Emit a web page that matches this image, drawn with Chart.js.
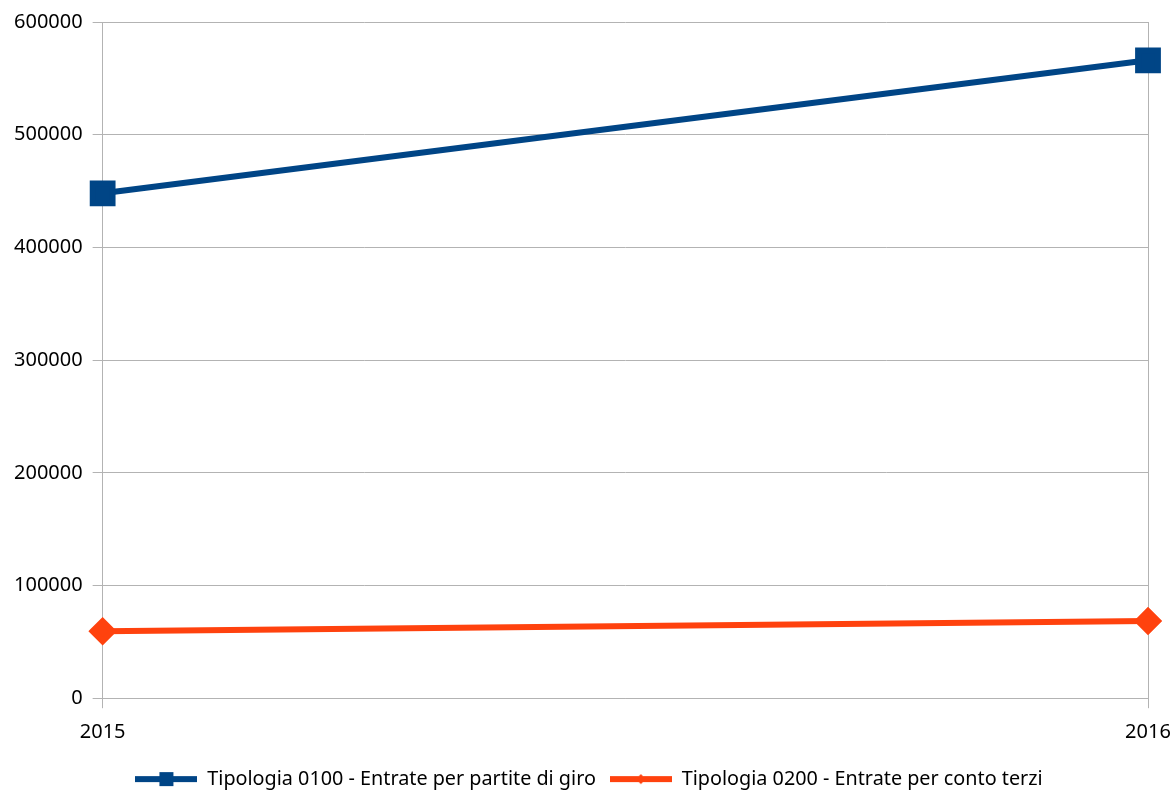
<!DOCTYPE html>
<html>
<head>
<meta charset="utf-8">
<script src="https://cdn.jsdelivr.net/npm/chart.js@4.4.0/dist/chart.umd.min.js"></script>
<style>
  html, body { margin: 0; padding: 0; background: #fff; }
  #chart { display: block; }
</style>
</head>
<body>
<canvas id="chart" width="1174" height="791"></canvas>
<script>
const years = ['2015', '2016'];
const partiteGiro = [448000, 566000];
const contoTerzi = [59500, 68400];
const seriesNames = ['Tipologia 0100 - Entrate per partite di giro', 'Tipologia 0200 - Entrate per conto terzi'];
const blue = '#004586';
const orange = '#ff420e';

// petite image pour la légende : trait + marqueur
function legendIcon(color, shape) {
    const c = document.createElement('canvas');
    c.width = 62; c.height = 16;
    const g = c.getContext('2d');
    g.fillStyle = color;
    g.fillRect(0, 5, 62, 6);
    if (shape === 'rect') {
        g.fillRect(24, 1, 14, 14);
    } else {
        g.beginPath();
        g.moveTo(31, 3); g.lineTo(36, 8); g.lineTo(31, 13); g.lineTo(26, 8);
        g.closePath(); g.fill();
    }
    return c;
}

const tickFont = { family: 'Noto Sans', size: 20 };

const ctx = document.getElementById('chart').getContext('2d');
new Chart(ctx, {
    type: 'line',
    data: {
        labels: years,
        datasets: [{
            label: seriesNames[0],
            data: partiteGiro,
            borderColor: blue,
            backgroundColor: blue,
            borderWidth: 6,
            pointStyle: 'rect',
            pointRadius: 14,
            tension: 0
        }, {
            label: seriesNames[1],
            data: contoTerzi,
            borderColor: orange,
            backgroundColor: orange,
            borderWidth: 6,
            pointStyle: 'rectRot',
            pointRadius: 10,
            tension: 0
        }]
    },
    options: {
        responsive: false,
        animation: false,
        layout: { padding: { top: 7, right: 0, left: 4, bottom: -8 } },
        scales: {
            x: {
                offset: false,
                grid: { color: '#b3b3b3', tickLength: 10 },
                border: { color: '#b3b3b3' },
                ticks: { color: '#000', font: tickFont, padding: 12 },
                afterFit: scale => {
                    scale.height -= 1;
                    scale.paddingRight = 26;
                }
            },
            y: {
                min: 0,
                max: 600000,
                grid: { color: '#b3b3b3', tickLength: 10 },
                border: { color: '#b3b3b3' },
                ticks: {
                    stepSize: 100000,
                    color: '#000',
                    font: tickFont,
                    padding: 10,
                    callback: value => String(value)
                }
            }
        },
        plugins: {
            legend: {
                position: 'bottom',
                labels: {
                    color: '#000',
                    font: { family: 'Noto Sans', size: 19.8 },
                    usePointStyle: true,
                    pointStyleWidth: 62,
                    padding: 14,
                    generateLabels: chart => chart.data.datasets.map((ds, i) => ({
                        text: ds.label,
                        pointStyle: legendIcon(ds.borderColor, ds.pointStyle),
                        datasetIndex: i,
                        fontColor: '#000',
                        hidden: false
                    }))
                }
            },
            tooltip: { enabled: false }
        }
    }
});
</script>
</body>
</html>
